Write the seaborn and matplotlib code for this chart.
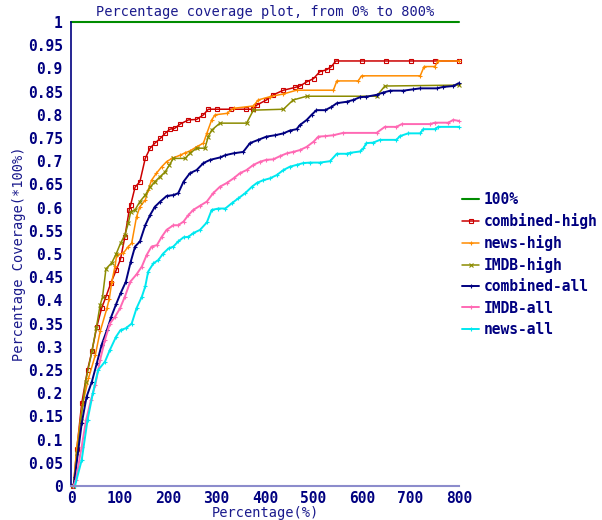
import numpy as np
import pandas as pd
import seaborn as sns
import matplotlib.pyplot as plt
from matplotlib.ticker import MultipleLocator, FuncFormatter

sns.set_theme(style="white")
plt.rcParams['font.family'] = ['DejaVu Sans Mono', 'DejaVu Sans']

# ===== 数据 =====
hundred_x = [0, 800]
hundred_y = [1.0, 1.0]

combined_high_x = [5, 12, 22, 34, 43, 53, 63, 72, 82, 93, 102, 111, 120, 123, 132, 142, 153, 163, 173, 184,
                   194, 204, 214, 225, 242, 259, 273, 283, 300, 330, 360, 375, 383, 403, 417, 438, 462, 472, 486, 500,
                   513, 527, 537, 546, 600, 650, 700, 750, 800]
combined_high_y = [0, 0.08, 0.178, 0.25, 0.29, 0.343, 0.383, 0.408, 0.437, 0.465, 0.489, 0.537, 0.595, 0.606, 0.644,
                   0.656, 0.706, 0.728, 0.739, 0.749, 0.76, 0.769, 0.771, 0.78, 0.789, 0.79, 0.80, 0.812, 0.812, 0.812,
                   0.812, 0.812, 0.821, 0.832, 0.843, 0.853, 0.859, 0.862, 0.871, 0.878, 0.893, 0.897, 0.904, 0.916,
                   0.916, 0.916, 0.916, 0.916, 0.916]

news_high_x = [5, 12, 24, 36, 50, 60, 74, 79, 84, 91, 94, 108, 118, 125, 135, 142, 153, 159, 166, 176,
               187, 197, 208, 225, 235, 245, 259, 273, 280, 290, 297, 321, 335, 376, 386, 410, 438, 465, 541, 548,
               592, 599, 720, 728, 750, 757, 800]
news_high_y = [0, 0.085, 0.177, 0.232, 0.282, 0.333, 0.383, 0.404, 0.44, 0.475, 0.498, 0.502, 0.516, 0.523, 0.58,
               0.602, 0.616, 0.638, 0.659, 0.674, 0.688, 0.699, 0.706, 0.713, 0.718, 0.722, 0.731, 0.739, 0.76, 0.789,
               0.80, 0.803, 0.814, 0.819, 0.832, 0.839, 0.845, 0.853, 0.853, 0.873, 0.873, 0.884, 0.884, 0.904,
               0.904, 0.916, 0.916]

imdb_high_x = [5, 13, 20, 30, 43, 52, 60, 65, 72, 84, 93, 102, 111, 118, 123, 132, 142, 153, 163, 173,
               184, 194, 203, 211, 235, 245, 259, 276, 283, 290, 307, 362, 376, 438, 458, 486, 630, 647, 800]
imdb_high_y = [0, 0.072, 0.14, 0.225, 0.29, 0.34, 0.39, 0.408, 0.468, 0.481, 0.50, 0.523, 0.541, 0.566, 0.591,
               0.595, 0.613, 0.627, 0.644, 0.656, 0.667, 0.677, 0.692, 0.706, 0.706, 0.717, 0.728, 0.728, 0.753,
               0.767, 0.782, 0.782, 0.81, 0.812, 0.832, 0.84, 0.84, 0.862, 0.864]

combined_all_x = [5, 8, 22, 32, 43, 53, 63, 74, 83, 93, 102, 113, 123, 132, 142, 153, 163, 173, 184, 197,
                  211, 221, 232, 245, 259, 273, 287, 307, 318, 335, 355, 369, 386, 403, 421, 438, 451, 465, 472, 486,
                  496, 506, 524, 537, 548, 568, 582, 596, 609, 630, 644, 658, 685, 706, 720, 754, 767, 788, 799]
combined_all_y = [0, 0.02, 0.135, 0.192, 0.225, 0.264, 0.304, 0.336, 0.365, 0.392, 0.415, 0.44, 0.483, 0.516, 0.527,
                  0.562, 0.584, 0.602, 0.613, 0.625, 0.627, 0.631, 0.656, 0.674, 0.681, 0.696, 0.703, 0.708, 0.713,
                  0.717, 0.72, 0.739, 0.746, 0.753, 0.756, 0.76, 0.766, 0.769, 0.778, 0.789, 0.80, 0.81, 0.81, 0.817,
                  0.825, 0.828, 0.832, 0.838, 0.839, 0.843, 0.848, 0.852, 0.852, 0.855, 0.857, 0.857, 0.86, 0.862,
                  0.868]

imdb_all_x = [5, 10, 22, 31, 41, 50, 60, 70, 80, 91, 101, 111, 122, 135, 146, 156, 166, 177, 187, 197,
              211, 221, 232, 242, 252, 266, 280, 293, 307, 321, 335, 348, 362, 376, 390, 403, 417, 431, 445, 458,
              472, 486, 500, 510, 524, 541, 561, 630, 647, 671, 682, 740, 750, 778, 788, 799]
imdb_all_y = [0, 0.013, 0.085, 0.142, 0.185, 0.218, 0.272, 0.315, 0.35, 0.365, 0.383, 0.408, 0.44, 0.456, 0.473,
              0.498, 0.516, 0.519, 0.537, 0.552, 0.562, 0.562, 0.57, 0.584, 0.595, 0.604, 0.613, 0.631, 0.645, 0.653,
              0.663, 0.674, 0.681, 0.692, 0.699, 0.703, 0.704, 0.711, 0.717, 0.72, 0.724, 0.731, 0.742, 0.753,
              0.754, 0.756, 0.761, 0.761, 0.774, 0.774, 0.78, 0.78, 0.783, 0.783, 0.789, 0.787]

news_all_x = [8, 22, 34, 45, 56, 70, 80, 93, 102, 113, 125, 135, 146, 153, 159, 170, 180, 190, 201, 211,
              221, 232, 242, 252, 266, 280, 290, 304, 318, 331, 345, 359, 373, 383, 396, 410, 424, 438, 451, 465,
              479, 493, 513, 534, 548, 568, 575, 596, 603, 609, 623, 637, 671, 678, 695, 720, 726, 750, 757, 800]
news_all_y = [0, 0.056, 0.142, 0.2, 0.25, 0.268, 0.293, 0.322, 0.336, 0.34, 0.35, 0.383, 0.408, 0.43, 0.462,
              0.48, 0.487, 0.501, 0.512, 0.516, 0.527, 0.536, 0.537, 0.545, 0.552, 0.568, 0.595, 0.598, 0.598,
              0.609, 0.62, 0.631, 0.645, 0.653, 0.659, 0.663, 0.67, 0.681, 0.688, 0.692, 0.696, 0.697, 0.697,
              0.700, 0.716, 0.716, 0.718, 0.721, 0.728, 0.739, 0.74, 0.746, 0.746, 0.754, 0.76, 0.76, 0.769,
              0.769, 0.774, 0.774]

series = [
    ("100%", hundred_x, hundred_y, "#008c00", None, 1.5),
    ("combined-high", combined_high_x, combined_high_y, "#cc0000", "s", 1.1),
    ("news-high", news_high_x, news_high_y, "#ff8c00", "+", 1.1),
    ("IMDB-high", imdb_high_x, imdb_high_y, "#8b8b00", "x", 1.1),
    ("combined-all", combined_all_x, combined_all_y, "#000080", "+", 1.4),
    ("IMDB-all", imdb_all_x, imdb_all_y, "#ff69b4", "+", 1.4),
    ("news-all", news_all_x, news_all_y, "#00e8f0", "+", 1.4),
]

TXT = "#1a1a8c"

# ===== 绘图 =====
fig = plt.figure(figsize=(6.02, 5.20), dpi=100)
ax = fig.add_axes([0.118, 0.0654, 0.6445, 0.8923])

for name, xs, ys, col, mk, lw in series:
    kw = {}
    if mk == "s":
        kw = dict(marker="s", markersize=2.6, markerfacecolor="none", markeredgecolor=col, markeredgewidth=0.8)
    elif mk is not None:
        kw = dict(marker=mk, markersize=3, markeredgecolor=col, markeredgewidth=0.8)
    sns.lineplot(x=xs, y=ys, ax=ax, color=col, linewidth=lw, label=name,
                 estimator=None, sort=False, clip_on=False, **kw)

ax.set_xlim(0, 800)
ax.set_ylim(0, 1)
ax.xaxis.set_major_locator(MultipleLocator(100))
ax.yaxis.set_major_locator(MultipleLocator(0.05))
ax.yaxis.set_major_formatter(FuncFormatter(lambda v, p: f"{v:.2f}".rstrip("0").rstrip(".")))

for s in ["top", "right"]:
    ax.spines[s].set_visible(False)
ax.spines["left"].set_color("#000080")
ax.spines["left"].set_linewidth(1.2)
ax.spines["bottom"].set_color("#8c8ccc")
ax.spines["bottom"].set_linewidth(1.5)

ax.tick_params(axis="y", direction="out", length=3, width=1, color="#000080", pad=3,
               labelsize=10.5, labelcolor="#000080")
ax.tick_params(axis="x", direction="inout", length=5, width=1, color="#8c8ccc", pad=1,
               labelsize=10.5, labelcolor="#000080")
for lab in ax.get_xticklabels() + ax.get_yticklabels():
    lab.set_fontweight("bold")

ax.set_title("Percentage coverage plot, from 0% to 800%", fontsize=9.8, color=TXT, pad=4)
ax.set_xlabel("Percentage(%)", fontsize=9.8, color=TXT, labelpad=0)
ax.set_ylabel("Percentage Coverage(*100%)", fontsize=9.8, color=TXT, labelpad=1)

leg = ax.legend(loc="upper left", bbox_to_anchor=(1.0, 0.64), frameon=False,
                borderpad=0, borderaxespad=0.2, handlelength=1.2, handletextpad=0.3,
                labelspacing=0.42, prop={"family": "DejaVu Sans Mono", "weight": "bold", "size": 10.5})
for t in leg.get_texts():
    t.set_color("#000080")

fig.savefig("out.png", dpi=100)
